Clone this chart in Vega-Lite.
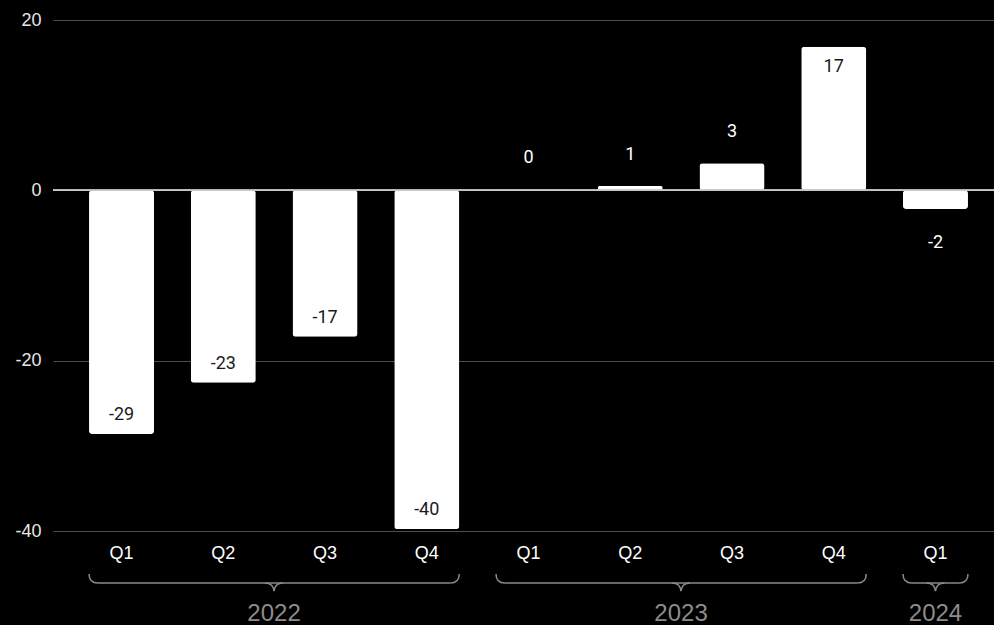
{
  "$schema": "https://vega.github.io/schema/vega-lite/v6.json",
  "autosize": "none",
  "width": 951,
  "height": 511,
  "padding": {"left": 53, "top": 20, "right": 0, "bottom": 94},
  "background": "#000000",
  "config": {
    "view": {"stroke": null},
    "font": "Liberation Sans",
    "locale": {"number": {"decimal": ".", "thousands": ",", "grouping": [3], "currency": ["$", ""], "minus": "-"}}
  },
  "datasets": {
    "bars": [
      {"period": "2022 Q1", "value": -28.6},
      {"period": "2022 Q2", "value": -22.6},
      {"period": "2022 Q3", "value": -17.2},
      {"period": "2022 Q4", "value": -39.8},
      {"period": "2023 Q1", "value": 0.1},
      {"period": "2023 Q2", "value": 0.55},
      {"period": "2023 Q3", "value": 3.17},
      {"period": "2023 Q4", "value": 16.85},
      {"period": "2024 Q1", "value": -2.2}
    ],
    "braces": [
      {"year": "2022", "first": "2022 Q1", "last": "2022 Q4", "mid": "2022 Q2", "count": 4},
      {"year": "2023", "first": "2023 Q1", "last": "2023 Q4", "mid": "2023 Q2", "count": 4},
      {"year": "2024", "first": "2024 Q1", "last": "2024 Q1", "mid": "2024 Q1", "count": 1}
    ]
  },
  "layer": [
    {
      "data": {"name": "bars"},
      "mark": {"type": "bar", "color": "#ffffff", "cornerRadius": 3},
      "encoding": {
        "x": {
          "field": "period", "type": "nominal", "sort": null,
          "scale": {"paddingInner": 0.361, "paddingOuter": 0.354},
          "axis": {
            "title": null, "domain": false, "ticks": false, "labelAngle": 0,
            "labelExpr": "split(datum.label, ' ')[1]",
            "labelColor": "#ffffff", "labelFontSize": 18, "labelPadding": 13,
            "labelFont": "Liberation Sans"
          }
        },
        "y": {
          "field": "value", "type": "quantitative",
          "scale": {"domain": [-40, 20], "nice": false, "zero": true},
          "axis": {
            "title": null, "domain": false, "ticks": false, "values": [-40, -20, 0, 20],
            "grid": true, "gridColor": "#4d4d4d", "gridWidth": 1.2,
            "labelColor": "#e6e6e6", "labelFontSize": 18, "labelPadding": 12,
            "labelFont": "Liberation Sans"
          }
        }
      }
    },
    {
      "data": {"name": "bars"},
      "mark": {"type": "rule", "color": "#c8c8c8", "strokeWidth": 1.2},
      "encoding": {"y": {"datum": 0}}
    },
    {
      "data": {"name": "bars"},
      "transform": [{"filter": "datum.value < -5"}],
      "mark": {"type": "text", "font": "Roboto", "fontSize": 18, "color": "#1a1a1a", "baseline": "middle", "dy": -19},
      "encoding": {
        "x": {"field": "period", "type": "nominal"},
        "y": {"field": "value", "type": "quantitative"},
        "text": {"field": "value", "type": "quantitative", "format": ".0f"}
      }
    },
    {
      "data": {"name": "bars"},
      "transform": [{"filter": "datum.value > 5"}],
      "mark": {"type": "text", "font": "Roboto", "fontSize": 18, "color": "#1a1a1a", "baseline": "middle", "dy": 20},
      "encoding": {
        "x": {"field": "period", "type": "nominal"},
        "y": {"field": "value", "type": "quantitative"},
        "text": {"field": "value", "type": "quantitative", "format": ".0f"}
      }
    },
    {
      "data": {"name": "bars"},
      "transform": [{"filter": "datum.value >= 0 && datum.value <= 5"}],
      "mark": {"type": "text", "font": "Roboto", "fontSize": 18, "color": "#ffffff", "baseline": "middle", "dy": -31},
      "encoding": {
        "x": {"field": "period", "type": "nominal"},
        "y": {"field": "value", "type": "quantitative"},
        "text": {"field": "value", "type": "quantitative", "format": ".0f"}
      }
    },
    {
      "data": {"name": "bars"},
      "transform": [{"filter": "datum.value < 0 && datum.value >= -5"}],
      "mark": {"type": "text", "font": "Roboto", "fontSize": 18, "color": "#ffffff", "baseline": "middle", "dy": 34},
      "encoding": {
        "x": {"field": "period", "type": "nominal"},
        "y": {"field": "value", "type": "quantitative"},
        "text": {"field": "value", "type": "quantitative", "format": ".0f"}
      }
    },
    {
      "data": {"name": "braces"},
      "mark": {"type": "rule", "color": "#8a8a8a", "strokeWidth": 1.5, "clip": false},
      "encoding": {
        "x": {"field": "first", "type": "nominal", "bandPosition": 0.14},
        "x2": {"field": "last", "bandPosition": 0.86},
        "y": {"datum": -46.1}
      }
    },
    {
      "data": {"name": "braces"},
      "mark": {"type": "point", "shape": "M0,-1 Q0,0 1,0", "size": 324, "filled": false, "color": "#8a8a8a", "strokeWidth": 1.5, "opacity": 1},
      "encoding": {
        "x": {"field": "first", "type": "nominal", "bandPosition": 0},
        "y": {"datum": -46.1}
      }
    },
    {
      "data": {"name": "braces"},
      "mark": {"type": "point", "shape": "M0,-1 Q0,0 -1,0", "size": 324, "filled": false, "color": "#8a8a8a", "strokeWidth": 1.5, "opacity": 1},
      "encoding": {
        "x": {"field": "last", "type": "nominal", "bandPosition": 1},
        "y": {"datum": -46.1}
      }
    },
    {
      "data": {"name": "braces"},
      "transform": [{"filter": "datum.count > 1"}],
      "mark": {"type": "point", "shape": "M-1,0 Q-0.1,0 0,0.9 Q0.1,0 1,0", "size": 324, "filled": false, "color": "#8a8a8a", "strokeWidth": 1.5, "opacity": 1},
      "encoding": {
        "x": {"field": "mid", "type": "nominal", "bandPosition": 1.281},
        "y": {"datum": -46.1}
      }
    },
    {
      "data": {"name": "braces"},
      "transform": [{"filter": "datum.count == 1"}],
      "mark": {"type": "point", "shape": "M-1,0 Q-0.1,0 0,0.9 Q0.1,0 1,0", "size": 324, "filled": false, "color": "#8a8a8a", "strokeWidth": 1.5, "opacity": 1},
      "encoding": {
        "x": {"field": "mid", "type": "nominal", "bandPosition": 0.5},
        "y": {"datum": -46.1}
      }
    },
    {
      "data": {"name": "braces"},
      "transform": [{"filter": "datum.count > 1"}],
      "mark": {"type": "text", "fontSize": 24, "color": "#8c8c8c", "baseline": "middle"},
      "encoding": {
        "x": {"field": "mid", "type": "nominal", "bandPosition": 1.281},
        "y": {"datum": -49.8},
        "text": {"field": "year"}
      }
    },
    {
      "data": {"name": "braces"},
      "transform": [{"filter": "datum.count == 1"}],
      "mark": {"type": "text", "fontSize": 24, "color": "#8c8c8c", "baseline": "middle"},
      "encoding": {
        "x": {"field": "mid", "type": "nominal", "bandPosition": 0.5},
        "y": {"datum": -49.8},
        "text": {"field": "year"}
      }
    }
  ]
}
